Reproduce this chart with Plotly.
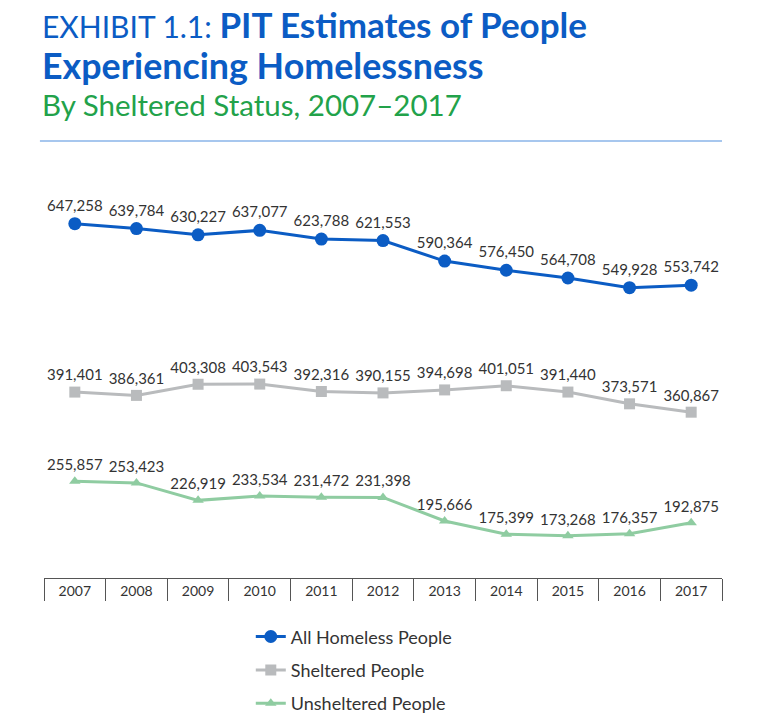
import plotly.graph_objects as go

years = ["2007", "2008", "2009", "2010", "2011", "2012", "2013", "2014", "2015", "2016", "2017"]
all_homeless = [647258, 639784, 630227, 637077, 623788, 621553, 590364, 576450, 564708, 549928, 553742]
sheltered = [391401, 386361, 403308, 403543, 392316, 390155, 394698, 401051, 391440, 373571, 360867]
unsheltered = [255857, 253423, 226919, 233534, 231472, 231398, 195666, 175399, 173268, 176357, 192875]

series_names = ["All Homeless People", "Sheltered People", "Unsheltered People"]

BLUE = "#0b5cc4"
GRAY = "#b9bbbd"
GREEN = "#8fcca1"
TXT = "#333333"
FONT = "Lato"

def fmt(v):
    return f"{v:,}"

fig = go.Figure()
specs = [
    (all_homeless, series_names[0], BLUE, "circle", 13),
    (sheltered, series_names[1], GRAY, "square", 11),
    (unsheltered, series_names[2], GREEN, "triangle-up", 10),
]
for i, (vals, name, col, sym, sz) in enumerate(specs):
    fig.add_trace(go.Scatter(
        x=years, y=vals, name=name, mode="lines+markers+text",
        legendgroup=f"g{i}",
        line=dict(color=col, width=3),
        marker=dict(color=col, symbol=sym, size=sz),
        text=[fmt(v) for v in vals], textposition="top center",
        textfont=dict(family=FONT, size=15, color=TXT),
        cliponaxis=False,
    ))

fig.update_layout(
    width=768, height=720,
    margin=dict(l=44, r=46, t=183, b=142, autoexpand=False),
    paper_bgcolor="white", plot_bgcolor="white",
    font=dict(family=FONT, color=TXT),
    showlegend=True,
    legend=dict(x=0.305, y=-0.102, xanchor="left", yanchor="top",
                orientation="v", font=dict(family=FONT, size=18, color=TXT),
                tracegroupgap=7, bgcolor="rgba(0,0,0,0)"),
    xaxis=dict(type="category", showgrid=False, zeroline=False,
               showline=True, linecolor="#555555", linewidth=1,
               ticks="outside", tickson="boundaries", ticklen=22, tickcolor="#555555",
               tickfont=dict(family=FONT, size=14, color=TXT), range=[-0.5, 10.5]),
    yaxis=dict(range=[109000, 709000], visible=False, showgrid=False, zeroline=False),
)

def py(p):
    return (578 - p) / 395

fig.add_annotation(xref="paper", yref="paper", x=-0.006, y=py(24), xanchor="left", yanchor="middle",
                   text="EXHIBIT 1.1: <b><span style='font-size:35px'>PIT Estimates of People</span></b>",
                   showarrow=False, font=dict(family=FONT, size=30, color=BLUE))
fig.add_annotation(xref="paper", yref="paper", x=-0.006, y=py(66), xanchor="left", yanchor="middle",
                   text="<b>Experiencing Homelessness</b>", showarrow=False,
                   font=dict(family=FONT, size=35.8, color=BLUE))
fig.add_annotation(xref="paper", yref="paper", x=-0.006, y=py(104), xanchor="left", yanchor="middle",
                   text="By Sheltered Status, 2007–2017", showarrow=False,
                   font=dict(family=FONT, size=29.5, color="#22a24a"))
fig.add_shape(type="line", xref="paper", yref="paper", x0=-0.006, x1=1.0, y0=py(141), y1=py(141),
              line=dict(color="#8ab4e8", width=1.5))

fig.write_html("out.html", config={"displayModeBar": False},
               post_script="document.body.style.margin='0px';")
